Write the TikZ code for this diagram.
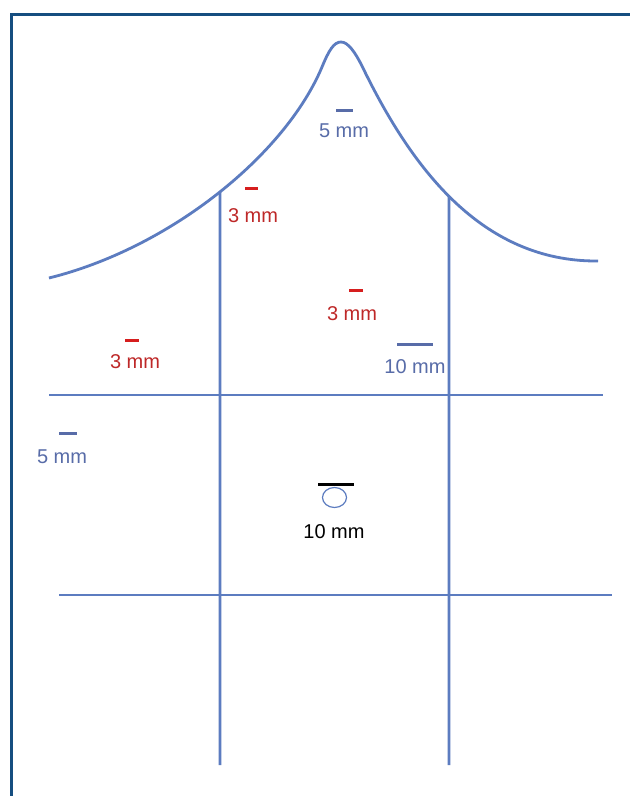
\documentclass[tikz,border=0pt]{standalone}
\usepackage{fontspec}
\setmainfont{Liberation Sans}
\usetikzlibrary{intersections}
\definecolor{lineblue}{RGB}{92,124,192}
\definecolor{frameblue}{RGB}{22,78,128}
\definecolor{txtblue}{RGB}{88,108,168}
\definecolor{txtred}{RGB}{190,40,40}
\definecolor{dashred}{RGB}{214,30,30}
\begin{document}
\begin{tikzpicture}[x=1pt,y=-1pt,
  guide/.style={draw=lineblue, line width=2.8pt},
  lbl/.style={inner sep=0pt, anchor=center, font=\fontsize{20}{24}\selectfont},
  bluelbl/.style={lbl, text=txtblue},
  redlbl/.style={lbl, text=txtred},
  blacklbl/.style={lbl, text=black},
  bluedash/.style={draw=txtblue, line width=3pt},
  reddash/.style={draw=dashred, line width=3pt},
  blackdash/.style={draw=black, line width=3pt}]
\useasboundingbox (0,0) rectangle (630,796);
\fill[white] (0,0) rectangle (630,796);
% frame
\coordinate (fbl) at (11,796);
\coordinate (ftl) at (11,14);
\coordinate (ftr) at (630,14);
\draw[frameblue, line width=3pt] (fbl) -- (ftl) -- (ftr);
% crest curve
\draw[guide, name path=crest]
  (49,278) .. controls (170,248) and (285,155) .. (322,67)
  .. controls (329,50) and (334,42) .. (341,42)
  .. controls (348,42) and (355,52) .. (362,66)
  .. controls (410,165) and (480,262) .. (598,261);
% vertical lines
\path[name path=vlpath] (220,0) -- (220,800);
\path[name path=vrpath] (449,0) -- (449,800);
\path[name intersections={of=crest and vlpath, by=vltop}];
\path[name intersections={of=crest and vrpath, by=vrtop}];
\coordinate (vlbot) at (220,765);
\coordinate (vrbot) at (449,765);
\draw[guide] (vltop) -- (vlbot);
\draw[guide] (vrtop) -- (vrbot);
% horizontal lines
\coordinate (h1l) at (49,395);
\coordinate (h1r) at (603,395);
\coordinate (h2l) at (59,595);
\coordinate (h2r) at (612,595);
\draw[guide] (h1l) -- (h1r);
\draw[guide] (h2l) -- (h2r);
% labels
\node[bluelbl] (top5) at (344,131) {5 mm};
\draw[bluedash] (336,110) -- (353,110);
\node[redlbl] (red3a) at (253,216) {3 mm};
\draw[reddash] (245,188) -- (258,188);
\node[redlbl] (red3b) at (352,314) {3 mm};
\draw[reddash] (349,290) -- (363,290);
\node[redlbl] (red3c) at (135,362) {3 mm};
\draw[reddash] (125,340) -- (139,340);
\node[bluelbl] (blue10) at (415,367) {10 mm};
\draw[bluedash] (397,344) -- (433,344);
\node[bluelbl] (left5) at (62,457) {5 mm};
\draw[bluedash] (59,433) -- (77,433);
\node[blacklbl] (black10) at (334,532) {10 mm};
\draw[blackdash] (318,484) -- (354,484);
\draw[lineblue, line width=1.2pt] (334.5,497.5) ellipse [x radius=12, y radius=10];
\end{tikzpicture}
\end{document}
